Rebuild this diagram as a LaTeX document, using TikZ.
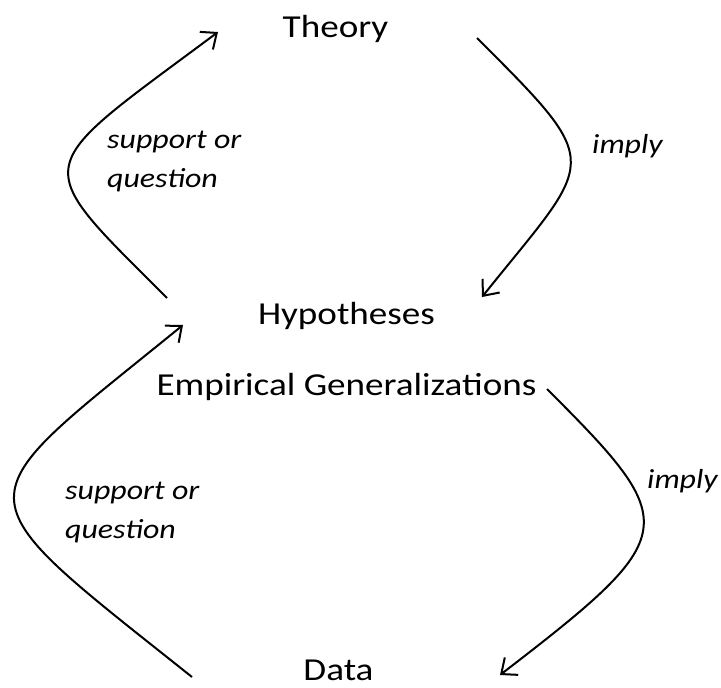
\documentclass[tikz,border=0pt]{standalone}
\usepackage{fontspec}
\setmainfont{Carlito}[FakeStretch=1.16]
\usetikzlibrary{arrows.meta}
\begin{document}
\begin{tikzpicture}[x=1pt,y=-1pt,
  term/.style={anchor=base, inner sep=0pt, font=\fontsize{32}{38}\selectfont},
  lab/.style={anchor=base west, inner sep=0pt, align=left, font=\fontsize{27.5}{39}\selectfont\itshape},
  flow/.style={line width=2pt, -{Straight Barb[length=13pt,width=22pt,line width=2pt]}}]
\useasboundingbox (0,0) rectangle (721,688);
% terms
\node[term] (theory) at (335.5,37) {Theory};
\node[term] (hyp) at (346.5,324) {Hypotheses};
\node[term] (emp) at (346.5,395) {Empirical Generalizations};
\node[term] (data) at (338.5,680) {Data};
% connector ends
\coordinate (s1) at (167,298); \coordinate (t1) at (218,32);
\coordinate (s2) at (477,38);  \coordinate (t2) at (482,297);
\coordinate (s3) at (192,677); \coordinate (t3) at (183,325);
\coordinate (s4) at (547,389); \coordinate (t4) at (500,675);
% connectors
\draw[flow] (s1) .. controls (27,158) and (29,173) .. (t1);
\draw[flow] (s2) .. controls (607,168) and (595,156) .. (t2);
\draw[flow] (s3) .. controls (-46.5,487) and (-40.6,507) .. (t3);
\draw[flow] (s4) .. controls (682.7,524.7) and (682.9,534.3) .. (t4);
% labels (anchor on the baseline of the last line)
\node[lab] (l1) at (107,187) {support or\\question};
\node[lab] (l2) at (592,153) {imply};
\node[lab] (l3) at (65,538) {support or\\question};
\node[lab] (l4) at (647,488) {imply};
\end{tikzpicture}
\end{document}
